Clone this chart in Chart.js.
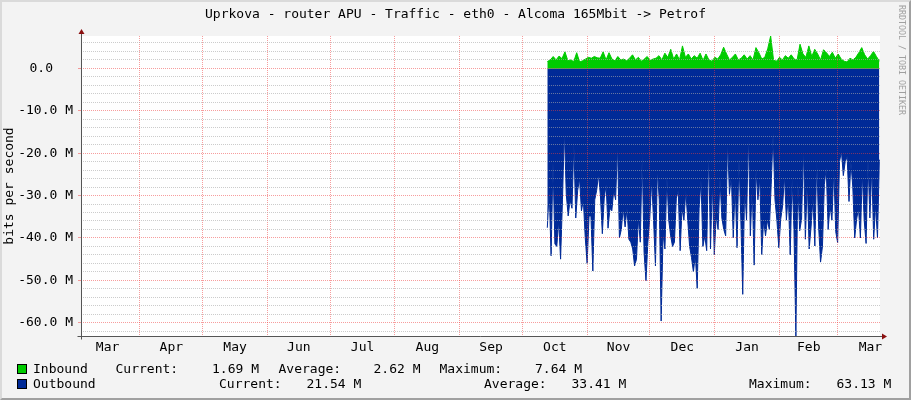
<!DOCTYPE html>
<html>
<head>
<meta charset="utf-8">
<script src="https://cdn.jsdelivr.net/npm/chart.js@4.4.1/dist/chart.umd.min.js"></script>
<style>
  html, body { margin: 0; padding: 0; background: #F3F3F3; }
  #wrap { position: relative; width: 911px; height: 400px; overflow: hidden; background: #F3F3F3; }
  #c { position: absolute; left: 0; top: 0; }
  .t { position: absolute; font-family: 'DejaVu Sans Mono', monospace; font-size: 13px; line-height: 15px; white-space: pre; color: #000; }
  .box { position: absolute; width: 8px; height: 8px; border: 1px solid #000; }
  #wm { position: absolute; left: 897px; top: 5px; writing-mode: vertical-rl; font-family: 'DejaVu Sans Mono', monospace; font-size: 8.3px; line-height: 10px; color: #A0A0A0; white-space: pre; }
  #frame { position: absolute; left: 0; top: 0; width: 911px; height: 400px; box-sizing: border-box; border-left: 2px solid #DADADA; border-top: 2px solid #DADADA; border-right: 2px solid #A0A0A0; border-bottom: 2px solid #A0A0A0; pointer-events: none; }
</style>
</head>
<body>
<div id="wrap">
  <canvas id="c" width="911" height="400"></canvas>
  <div id="legend"></div>
  <div id="wm">RRDTOOL / TOBI OETIKER</div>
  <div id="frame"></div>
</div>
<script>
// ---------------- data ----------------
const titleText = 'Uprkova - router APU - Traffic - eth0 - Alcoma 165Mbit -> Petrof';
const yAxisTitle = 'bits per second';
const monthLabels = ['Mar','Apr','May','Jun','Jul','Aug','Sep','Oct','Nov','Dec','Jan','Feb','Mar'];
// day offsets of month starts, counted from 1 March of the first year
const monthStartDays = [0,31,61,92,122,153,184,214,245,275,306,337,365,396];
const axisFirstDay = 2.77, axisLastDay = 385.1;
const dataFirstDay = 225.9, dataLastDay = 384.8;
const yMajorStep = 10, yMinorStep = 2;   // M bits/s

// Inbound, M bits/s (evenly spaced in time)
const inbound = [
  1.6,2.0,2.8,2.0,2.9,2.3,3.9,1.8,2.0,1.6,
  3.7,1.5,1.8,2.2,2.6,2.4,2.8,2.5,2.4,3.9,
  2.0,3.7,2.2,1.8,2.8,2.0,2.2,1.8,2.4,3.2,
  2.0,2.6,1.7,2.2,2.8,1.9,2.2,2.4,3.0,2.0,
  3.6,2.6,4.5,2.2,3.4,2.0,5.3,2.6,3.4,2.2,
  3.0,2.4,3.6,1.9,3.4,2.0,1.7,2.6,2.2,3.2,
  5.0,3.4,2.0,2.6,3.4,2.0,2.4,3.2,2.2,3.0,
  2.0,4.9,3.7,2.2,2.6,4.6,7.64,1.9,1.7,2.6,
  2.0,3.0,2.4,3.2,2.2,2.0,5.7,3.4,2.6,5.3,
  2.8,4.5,3.4,2.0,4.4,3.7,2.8,3.8,2.4,3.4,
  2.2,1.7,1.5,2.4,2.0,2.6,3.7,4.9,3.2,2.2,
  3.0,4.0,2.8,1.69
];
// Outbound, M bits/s (drawn mirrored below zero)
const outbound = [
  37.6,29,44.2,22,41.4,42,36,45,31,14.4,
  29.7,34.8,31,33,17.5,35.3,28.8,26,33.6,31,
  40,46,34.8,34.8,47.8,31,28.8,25,30,39,
  30.6,27.4,37.7,33,33.6,28.8,31,17.9,40,38,
  33,37.4,33,40.3,41,42.6,46.6,45,35.3,41,
  20.3,43.4,50.1,41,35.3,
  26.4,35.8,46.6,23.8,31,59.6,39,42.6,25.3,35.8,
  39.5,42,41,30.6,28.8,43,33,35.8,28.8,35.8,
  42,44.6,48,44,51.9,33,26.4,42,39.5,43,
  19,42.6,26.7,44,34.8,38,26,35.3,38,39.5,
  16.9,29.7,25.3,40,27.6,42.3,21.3,35.8,53.3,28,
  35.8,15.2,39.5,28,46.4,23.8,31,25.8,44,35.8,
  39.5,35.8,38,27.4,15.2,31,35.8,42.3,35.6,32.4,
  25.3,35.8,29.7,44,26,38,63.13,26.4,38.3,35.6,
  18.7,40.3,26.4,42.6,37.4,30.6,41.9,21.2,37.4,45.7,
  42,27.4,23.4,38,32.4,35.8,23.6,38.5,41.1,22,
  19.5,25.3,22,20.8,31.4,22,28,40,35.6,33,
  40,24.5,35.8,41.3,21.3,35.3,23.4,40.3,32.2,40,
  21.54
];
const inboundStats  = { current: '1.69 M',  average: '2.62 M',  maximum: '7.64 M' };
const outboundStats = { current: '21.54 M', average: '33.41 M', maximum: '63.13 M' };

// ---------------- chart ----------------
const FONT = "'DejaVu Sans Mono', monospace";
const GREEN = '#00CC00', BLUE = '#002A97';
const MAJOR = 'rgba(240,60,60,0.5)', MINOR = 'rgba(170,170,170,0.6)';
const BLANK2 = '\u2800\u2800';   // two blank cells: the unit-less "0.0" keeps the column of the " M" labels

function toPoints(vals, sign) {
  const n = vals.length;
  return vals.map((v, i) => ({ x: dataFirstDay + i * (dataLastDay - dataFirstDay) / (n - 1), y: sign * v }));
}
const yMax = Math.max(...inbound);
const yMin = -Math.max(...outbound);
const isMajor = v => Math.abs(v % yMajorStep) < 1e-9;
const monthMidDays = monthStartDays.slice(0, -1).map((d, i) => (d + monthStartDays[i + 1]) / 2);

const rrdPlugin = {
  id: 'rrd',
  beforeDraw(chart) {
    const { ctx, chartArea: a } = chart;
    ctx.save();
    ctx.fillStyle = '#F3F3F3';
    ctx.fillRect(0, 0, chart.width, chart.height);
    ctx.fillStyle = '#FFFFFF';
    ctx.fillRect(a.left, a.top, a.right - a.left, a.bottom - a.top);
    ctx.restore();
  },
  afterDraw(chart) {
    const { ctx, chartArea: a } = chart;
    const L = Math.round(a.left) + 0.5, B = Math.round(a.bottom) + 0.5, R = Math.round(a.right), T = Math.round(a.top);
    ctx.save();
    ctx.strokeStyle = '#555555';
    ctx.lineWidth = 1;
    ctx.beginPath();
    ctx.moveTo(L, T - 3); ctx.lineTo(L, B + 3);
    ctx.moveTo(L - 4, B); ctx.lineTo(R + 3, B);
    ctx.stroke();
    ctx.fillStyle = '#8B1010';
    ctx.beginPath();
    ctx.moveTo(L, T - 7); ctx.lineTo(L - 3, T - 2); ctx.lineTo(L + 3, T - 2); ctx.closePath(); ctx.fill();
    ctx.beginPath();
    ctx.moveTo(R + 7, B); ctx.lineTo(R + 2, B - 3); ctx.lineTo(R + 2, B + 3); ctx.closePath(); ctx.fill();
    ctx.restore();
  }
};

Chart.defaults.font.family = FONT;
Chart.defaults.color = '#000';

new Chart(document.getElementById('c'), {
  type: 'line',
  data: {
    datasets: [
      { label: 'Inbound', data: toPoints(inbound, 1), fill: 'origin', backgroundColor: GREEN, borderColor: GREEN,
        borderWidth: 1, pointRadius: 0, tension: 0 },
      { label: 'Outbound', data: toPoints(outbound, -1), fill: 'origin', backgroundColor: BLUE, borderColor: BLUE,
        borderWidth: 1, pointRadius: 0, tension: 0 }
    ]
  },
  options: {
    responsive: false,
    devicePixelRatio: 1,
    animation: false,
    events: [],
    layout: { padding: 0 },
    plugins: {
      legend: { display: false },
      tooltip: { enabled: false },
      title: {
        display: true, text: titleText, color: '#000',
        font: { family: FONT, size: 13, weight: 'normal', lineHeight: 1.2 },
        padding: { top: 6.7, bottom: 13.7 }
      }
    },
    scales: {
      x: {
        type: 'linear', position: 'bottom', min: axisFirstDay, max: axisLastDay,
        afterBuildTicks: s => { s.ticks = monthMidDays.map(v => ({ value: v })); },
        afterFit: s => { s.height = 64; },
        ticks: { autoSkip: false, maxRotation: 0, minRotation: 0, padding: 4, color: '#000',
                 font: { family: FONT, size: 13 }, callback: (v, i) => monthLabels[i] },
        grid: { display: false, drawTicks: false },
        border: { display: false }
      },
      xg: {
        type: 'linear', position: 'bottom', min: axisFirstDay, max: axisLastDay,
        afterBuildTicks: s => { s.ticks = monthStartDays.filter(d => d > axisFirstDay && d < axisLastDay).map(v => ({ value: v })); },
        afterFit: s => { s.height = 0; },
        ticks: { display: false },
        grid: { z: 1, color: MAJOR, lineWidth: 1, drawTicks: false },
        border: { display: false, dash: [1, 1] }
      },
      y: {
        type: 'linear', position: 'left', min: yMin, max: yMax,
        afterBuildTicks: s => {
          const t = [];
          for (let v = Math.ceil(yMin / yMinorStep) * yMinorStep; v <= yMax; v += yMinorStep) t.push({ value: v });
          s.ticks = t;
        },
        afterFit: s => { s.width = 81; },
        ticks: { autoSkip: false, padding: 5, color: '#000', font: { family: FONT, size: 13 },
                 callback: v => !isMajor(v) ? '' : (v === 0 ? '0.0' + BLANK2 : v.toFixed(1) + ' M') },
        title: { display: true, text: yAxisTitle, color: '#000', font: { family: FONT, size: 13, lineHeight: 1.2 },
                 padding: { top: 2.2, bottom: 0 } },
        grid: { z: 1, lineWidth: 1, tickLength: 3,
                color: c => isMajor(c.tick.value) ? MAJOR : MINOR,
                tickColor: c => isMajor(c.tick.value) ? MAJOR : 'rgba(0,0,0,0)' },
        border: { display: false, dash: [1, 1] }
      },
      // empty right-hand margin so the title centres on the whole image, as in the reference
      yr: {
        type: 'linear', position: 'right', display: true, min: yMin, max: yMax,
        afterFit: s => { s.width = 31; },
        ticks: { display: false },
        grid: { display: false, drawTicks: false },
        border: { display: false }
      }
    }
  },
  plugins: [rrdPlugin]
});

// ---------------- legend (text) ----------------
const legend = document.getElementById('legend');
function put(text, left, top) {
  const s = document.createElement('span');
  s.className = 't'; s.textContent = text; s.style.left = left + 'px'; s.style.top = top + 'px';
  legend.appendChild(s);
}
function box(color, left, top) {
  const d = document.createElement('div');
  d.className = 'box'; d.style.background = color; d.style.left = left + 'px'; d.style.top = top + 'px';
  legend.appendChild(d);
}
box(GREEN, 17, 364);
put('Inbound', 33, 361);
put('Current:', 115.5, 361);
put(inboundStats.current, 212, 361);
put('Average:', 278.5, 361);
put(inboundStats.average, 373.5, 361);
put('Maximum:', 439.5, 361);
put(inboundStats.maximum, 535, 361);
box(BLUE, 17, 379);
put('Outbound', 33, 376);
put('Current:', 219, 376);
put(outboundStats.current, 306.5, 376);
put('Average:', 484, 376);
put(outboundStats.average, 571.5, 376);
put('Maximum:', 749, 376);
put(outboundStats.maximum, 836.5, 376);
</script>
</body>
</html>
